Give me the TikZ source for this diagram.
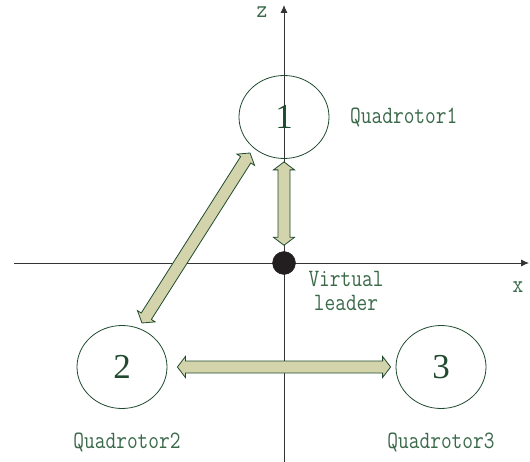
\documentclass[tikz,border=0pt]{standalone}
\usepackage{fontspec}
\setmainfont{Liberation Serif}
\usetikzlibrary{shapes.geometric,arrows.meta,calc}
\definecolor{dkgreen}{HTML}{1F4A2E}
\definecolor{txtgreen}{HTML}{3B6A4B}
\definecolor{khaki}{HTML}{D3D4AC}
\definecolor{axisgray}{HTML}{333333}
\definecolor{dotblack}{HTML}{231F20}
\newcommand{\tallabel}[1]{\scalebox{1}[1.2]{#1}}
\newcommand{\dblarr}[2]{%
  \draw[linkarrow] let \p1=($(#2)-(#1)$), \n1={atan2(\y1,\x1)}, \n2={veclen(\x1,\y1)} in
    [shift={(#1)}, rotate=\n1]
    (0pt,0pt) -- (8pt,10.5pt) -- (8pt,6pt) -- ({\n2*1pt-8pt},6pt) -- ({\n2*1pt-8pt},10.5pt)
    -- ({\n2*1pt},0pt) -- ({\n2*1pt-8pt},-10.5pt) -- ({\n2*1pt-8pt},-6pt) -- (8pt,-6pt)
    -- (8pt,-10.5pt) -- cycle;}
\tikzset{
  quad/.style={ellipse, draw=dkgreen, line width=0.8pt, inner sep=0pt,
    minimum width=90pt, minimum height=83pt, text=dkgreen,
    font=\fontsize{35}{35}\selectfont},
  lab/.style={text=txtgreen, inner sep=0pt, font=\ttfamily\fontsize{20.8}{24}\selectfont},
  axis/.style={draw=axisgray, line width=0.8pt, -{Latex[length=8pt,width=7pt]}},
  linkarrow/.style={fill=khaki, draw=dkgreen, line width=0.8pt, line join=miter},
}
\begin{document}
\begin{tikzpicture}[x=1pt,y=-1pt]
\useasboundingbox (0,0) rectangle (530,462);
% axes
\coordinate (xs) at (14,263);
\coordinate (xe) at (529,263);
\coordinate (zs) at (284,462);
\coordinate (ze) at (284,5);
\draw[axis] (xs) -- (xe);
\draw[axis] (zs) -- (ze);
\node[lab, anchor=base] (xl) at (518,293) {\tallabel{x}};
\node[lab, anchor=base] (zl) at (262,18) {\tallabel{z}};
% nodes
\node[quad] (q1) at (284,117) {1};
\node[quad] (q2) at (122,367) {2};
\node[quad] (q3) at (441,367) {3};
\node[circle, fill=dotblack, draw=dotblack, minimum size=23pt, inner sep=0pt] (vl) at (284,263) {};
% labels
\node[lab, anchor=west] (l1) at (350,117) {\tallabel{Quadrotor1}};
\node[lab] (l2) at (127,442) {\tallabel{Quadrotor2}};
\node[lab] (l3) at (441,442) {\tallabel{Quadrotor3}};
\node[lab, align=center] (lv) at (346,291) {\tallabel{Virtual}\\\tallabel{leader}};
% connectors
\coordinate (a1s) at ($(q1.south)+(0,3)$);
\coordinate (a1e) at ($(vl.north)+(0,-6)$);
\coordinate (a2s) at ($(q1)+(-34,36)$);
\coordinate (a2e) at ($(q2)+(20,-44)$);
\coordinate (a3s) at ($(q2.east)+(10,0)$);
\coordinate (a3e) at ($(q3.west)+(-5,0)$);
\dblarr{a1s}{a1e}
\dblarr{a2s}{a2e}
\dblarr{a3s}{a3e}
\end{tikzpicture}
\end{document}
